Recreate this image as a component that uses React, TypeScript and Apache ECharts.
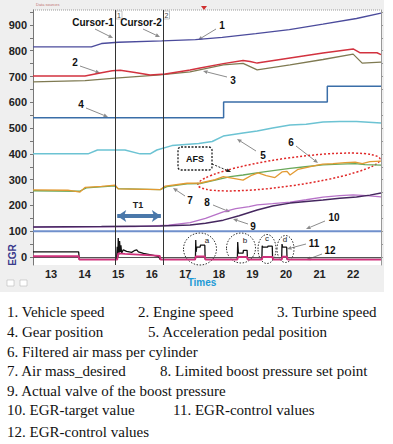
import React, { useEffect, useRef } from "react";
import * as echarts from "echarts";

// ---------- axis ticks ----------
const X_TICKS = [13, 14, 15, 16, 17, 18, 19, 20, 21, 22];
const Y_LABELS = [0, 100, 200, 300, 400, 500, 600, 700, 800, 900];
const Y_MINOR = [0, 50, 100, 150, 200, 250, 300, 350, 400, 450, 500, 550, 600, 650, 700, 750, 800, 850, 900, 950];

// ---------- series data [time, value] ----------
const VEHICLE_SPEED: [number, number][] = [
  [12.46, 815], [14.2, 815], [14.5, 828], [15.0, 833], [16.3, 838], [17.3, 843], [18.1, 852],
  [19.1, 866], [20.1, 882], [21.1, 903], [22.1, 925], [22.83, 946],
];
const ENGINE_SPEED: [number, number][] = [
  [12.46, 702], [14.01, 702], [14.46, 714], [14.82, 722], [15.06, 724], [15.5, 716], [15.95, 706],
  [16.4, 710], [17.14, 725], [17.44, 733], [18.13, 750], [18.72, 762], [18.93, 758], [19.14, 752],
  [20.12, 772], [21.1, 791], [22.0, 807], [22.21, 792], [22.71, 792], [22.83, 785],
];
const TURBINE_SPEED: [number, number][] = [
  [12.46, 679], [14.01, 684], [14.91, 694], [16.25, 706], [17.14, 718], [18.13, 745], [18.72, 751],
  [19.14, 726], [20.12, 745], [21.1, 766], [22.0, 787], [22.27, 752], [22.83, 756],
];
const GEAR_POSITION: [number, number][] = [
  [12.46, 540], [18.14, 540], [18.14, 601], [21.23, 601], [21.23, 662], [22.83, 662],
];
const PEDAL_POSITION: [number, number][] = [
  [12.46, 400], [14.1, 400], [14.38, 415], [15.2, 415], [15.65, 400], [15.95, 400], [16.15, 415],
  [16.6, 432], [17.4, 440], [17.8, 448], [18.13, 469], [18.72, 481], [19.14, 489], [19.6, 500],
  [20.12, 512], [20.6, 515], [21.1, 524], [21.6, 526], [22.1, 526], [22.83, 520],
];
const FILTERED_AIR_MASS: [number, number][] = [
  [12.46, 257], [13.85, 255], [14.05, 268], [14.9, 276], [15.0, 265], [16.25, 261], [16.45, 273],
  [17.05, 284], [17.44, 285], [17.89, 298], [18.34, 312], [18.72, 318], [19.23, 328], [19.67, 336],
  [20.12, 344], [20.57, 350], [21.1, 357], [21.61, 360], [22.06, 362], [22.35, 358], [22.83, 356],
];
const AIR_MASS_DESIRED: [number, number][] = [
  [12.46, 260], [13.5, 259], [13.86, 252], [14.01, 270], [14.5, 274], [14.91, 279], [15.0, 264],
  [16.25, 261], [16.4, 275], [17.05, 286], [17.44, 287], [17.89, 300], [18.13, 312], [18.39, 306],
  [18.72, 298], [18.99, 318], [19.17, 326], [19.41, 316], [19.67, 308], [19.88, 330], [20.03, 332],
  [20.12, 318], [20.36, 340], [20.63, 348], [20.93, 356], [21.1, 360], [21.4, 362], [21.76, 366],
  [22.06, 368], [22.27, 362], [22.5, 370], [22.83, 372],
];
const BOOST_SET_POINT: [number, number][] = [
  [12.46, 116], [15.5, 118], [16.5, 124], [17.14, 133], [17.6, 150], [18.13, 175], [18.5, 188],
  [18.9, 195], [19.14, 202], [19.6, 207], [20.12, 213], [20.6, 222], [21.1, 232], [21.6, 238],
  [22.0, 241], [22.4, 238], [22.83, 233],
];
const BOOST_ACTUAL: [number, number][] = [
  [12.46, 116], [14.5, 118], [16.25, 120], [17.14, 124], [17.6, 131], [18.13, 143], [18.6, 160],
  [19.14, 182], [19.6, 198], [20.12, 209], [20.6, 215], [21.1, 221], [21.6, 228], [22.1, 233],
  [22.5, 240], [22.83, 248],
];
const EGR_TARGET: [number, number][] = [[12.46, 100], [22.83, 100]];
const EGR_CONTROL_11: [number, number][] = [
  [12.46, 20], [13.82, 20], [13.84, -9], [14.95, -9], [14.97, 40], [14.99, 0], [15.0, 74],
  [15.02, 10], [15.04, 62], [15.06, 20], [15.08, 45], [15.1, 15], [15.15, 28], [15.25, 22],
  [15.4, 18], [15.5, 26], [15.55, 28], [15.6, 20], [15.75, 14], [15.9, 10], [16.05, 6], [16.2, 2],
  [16.25, -9], [17.3, -9], [17.31, 66], [17.32, 20], [17.34, 38], [17.44, 38], [17.45, 46],
  [17.58, 46], [17.59, -9], [18.55, -9], [18.56, 58], [18.58, 15], [18.72, 15], [18.73, 26],
  [18.84, 26], [18.85, -9], [19.28, -9], [19.29, 44], [19.31, 38], [19.45, 38], [19.46, 42],
  [19.59, 42], [19.6, -9], [19.87, -9], [19.88, 50], [19.9, 38], [20.02, 38], [20.03, -9], [22.83, -9],
];
const EGR_CONTROL_12: [number, number][] = [
  [12.46, 3], [13.82, 3], [13.84, -10], [14.97, -10], [15.0, 14], [15.2, 12], [15.6, 9], [16.0, 6],
  [16.24, 4], [16.26, -10], [17.29, -10], [17.31, 2], [17.58, 2], [17.6, -10], [18.55, -10],
  [18.57, 0], [18.84, 0], [18.86, -10], [19.28, -10], [19.3, 0], [19.6, 0], [19.62, -10],
  [19.87, -10], [19.89, 1], [20.03, 1], [20.05, -10], [22.83, -10],
];
const CURSORS = [14.91, 16.33];
const T1_SPAN = [14.97, 16.27];
const T1_LEVEL = 159;

// ---------- caption ----------
const CAPTION: [string, number, number][] = [
  ["1. Vehicle speed", 7, 312], ["2. Engine speed", 138, 312], ["3. Turbine speed", 277, 312],
  ["4. Gear position", 7, 332], ["5. Acceleration pedal position", 148, 332],
  ["6. Filtered air mass per cylinder", 7, 352],
  ["7. Air mass_desired", 7, 371], ["8. Limited boost pressure set point", 160, 371],
  ["9. Actual valve of the boost pressure", 7, 391],
  ["10. EGR-target value", 7, 410], ["11. EGR-control values", 173, 410],
  ["12. EGR-control values", 7, 432],
];

// annotation callouts: label, label x, label y, arrow from, arrow to
const CALLOUTS: [string, number, number, number, number, number, number][] = [
  ["1", 222, 25, 216, 29, 198, 40],
  ["2", 75, 62, 80, 66, 100, 73],
  ["3", 233, 80, 227, 77, 203, 71],
  ["4", 81, 104, 86, 108, 108, 117],
  ["5", 263, 155, 256, 151, 237, 139],
  ["6", 291, 142, 296, 146, 318, 163],
  ["7", 190, 200, 185, 196, 173, 188],
  ["8", 207, 202, 213, 205, 230, 212],
  ["9", 253, 226, 248, 224, 233, 219],
  ["10", 334, 217, 325, 221, 306, 229],
  ["11", 314, 243, 306, 244, 287, 249],
  ["12", 330, 250, 322, 254, 306, 260],
  ["Cursor-1", 93, 22, 95, 29, 113, 38],
  ["Cursor-2", 141, 22, 143, 29, 160, 37],
];

const EVENTS: [string, number, number, number, number, number, number][] = [
  ["a", 200, 249, 16.5, 16, 207, 240],
  ["b", 241, 248, 14.5, 15, 245, 240],
  ["c", 267, 249, 9, 14.5, 267, 238],
  ["d", 285.5, 249, 8.5, 13.5, 285, 239],
];

function arrow(x1: number, y1: number, x2: number, y2: number, color: string, dash?: number[]) {
  const a = Math.atan2(y2 - y1, x2 - x1);
  const s = 4.5;
  const w = 2;
  const bx = x2 - s * Math.cos(a);
  const by = y2 - s * Math.sin(a);
  return [
    { type: "line", shape: { x1, y1, x2: bx, y2: by }, style: { stroke: color, lineWidth: 1, lineDash: dash } },
    {
      type: "polygon",
      shape: { points: [[x2, y2], [bx + w * Math.sin(a), by - w * Math.cos(a)], [bx - w * Math.sin(a), by + w * Math.cos(a)]] },
      style: { fill: color },
    },
  ];
}

const line = (name: string, data: [number, number][], color: string, width = 1.3, extra: any = {}) => ({
  name,
  type: "line",
  data,
  showSymbol: false,
  symbol: "none",
  lineStyle: { color, width },
  itemStyle: { color },
  ...extra,
});

export default function App() {
  const ref = useRef<HTMLDivElement>(null);
  useEffect(() => {
    if (!ref.current) return;
    const chart = echarts.init(ref.current, undefined, { renderer: "svg" });
    const sans = "Liberation Sans, Arial, sans-serif";
    const graphics: any[] = [];
    // grey frame around the plot
    const bg = "#efefef";
    graphics.push(
      { type: "rect", shape: { x: 0, y: 0, width: 33, height: 292 }, style: { fill: bg }, z: -10 },
      { type: "rect", shape: { x: 33, y: 0, width: 351, height: 10 }, style: { fill: bg }, z: -10 },
      { type: "rect", shape: { x: 33, y: 265, width: 351, height: 27 }, style: { fill: bg }, z: -10 },
      { type: "rect", shape: { x: 381, y: 10, width: 3, height: 255 }, style: { fill: bg }, z: -10 },
      { type: "line", shape: { x1: 33, y1: 10, x2: 381, y2: 10 }, style: { stroke: "#9a9a9a", lineDash: [1, 1], lineWidth: 1 } },
      { type: "text", style: { x: 36, y: 2, text: "Data sources", font: "4px " + sans, fill: "#c07070" } },
      { type: "polygon", shape: { points: [[201, 6], [207, 6], [204, 10]] }, style: { fill: "#d03030" } },
      {
        type: "text", x: 12, y: 255, rotation: Math.PI / 2,
        style: { text: "EGR", font: "bold 10px " + sans, fill: "#3a3a8c", align: "center", verticalAlign: "middle" },
      },
      { type: "text", style: { x: 202, y: 282, text: "Times", font: "bold 10px " + sans, fill: "#1d9ad6", align: "center", verticalAlign: "middle" } },
      { type: "rect", shape: { x: 7, y: 280, width: 7, height: 6 }, style: { fill: "#fff", stroke: "#aaa", lineWidth: 0.5 } },
      { type: "rect", shape: { x: 20, y: 280, width: 7, height: 6 }, style: { fill: "#fff", stroke: "#aaa", lineWidth: 0.5 } },
      { type: "rect", shape: { x: 116, y: 11, width: 6, height: 8 }, style: { fill: "#fff", stroke: "#888", lineWidth: 0.5 } },
      { type: "text", style: { x: 119, y: 15, text: "1", font: "7px " + sans, fill: "#444", align: "center", verticalAlign: "middle" } },
      { type: "rect", shape: { x: 163.5, y: 11, width: 6, height: 8 }, style: { fill: "#fff", stroke: "#888", lineWidth: 0.5 } },
      { type: "text", style: { x: 166.5, y: 15, text: "2", font: "7px " + sans, fill: "#444", align: "center", verticalAlign: "middle" } },
    );
    // callouts
    CALLOUTS.forEach(([label, lx, ly, x1, y1, x2, y2]) => {
      graphics.push(...arrow(x1, y1, x2, y2, "#8c8c8c"));
      graphics.push({
        type: "text",
        style: { x: lx, y: ly, text: label, font: "bold 10px " + sans, fill: "#111", align: "center", verticalAlign: "middle" },
      });
    });
    // event circles
    EVENTS.forEach(([label, cx, cy, rx, ry, tx, ty]) => {
      graphics.push({ type: "ellipse", shape: { cx, cy, rx, ry }, style: { fill: "none", stroke: "#333", lineWidth: 1, lineDash: [1.5, 1.5] } });
      graphics.push({ type: "text", style: { x: tx, y: ty, text: label, font: "8px " + sans, fill: "#222", align: "center", verticalAlign: "middle" } });
    });
    // red dotted ellipse
    graphics.push({
      type: "group", x: 289, y: 172, rotation: 0.14,
      children: [{ type: "ellipse", shape: { cx: 0, cy: 0, rx: 92, ry: 14 }, style: { fill: "none", stroke: "#e02828", lineWidth: 1.5, lineDash: [2, 2] } }],
    });
    // AFS box
    graphics.push(
      { type: "rect", shape: { x: 178, y: 147, width: 34, height: 23, r: 3 }, style: { fill: "none", stroke: "#222", lineWidth: 1.3, lineDash: [2, 1.5] } },
      { type: "text", style: { x: 195, y: 158.5, text: "AFS", font: "bold 9px " + sans, fill: "#111", align: "center", verticalAlign: "middle" } },
      ...arrow(212, 164, 231, 172, "#222", [2, 1.5]),
      { type: "text", style: { x: 138, y: 205, text: "T1", font: "bold 9px " + sans, fill: "#222", align: "center", verticalAlign: "middle" } },
    );
    // caption
    CAPTION.forEach(([t, x, y]) => {
      graphics.push({ type: "text", style: { x, y, text: t, font: "15px 'Liberation Serif', 'Times New Roman', serif", fill: "#111", verticalAlign: "middle" } });
    });

    chart.setOption({
      animation: false,
      backgroundColor: "#fff",
      grid: { left: 33, top: 10, width: 348, height: 255, show: false },
      xAxis: {
        type: "value", min: 12.46, max: 22.83,
        axisLine: { lineStyle: { color: "#555" } },
        axisTick: { show: false },
        splitLine: { show: false },
        axisLabel: { customValues: X_TICKS, fontWeight: "bold", fontSize: 11, fontFamily: sans, color: "#222", margin: 3 },
      },
      yAxis: [
        {
          type: "value", min: -31, max: 958,
          axisLine: { show: true, lineStyle: { color: "#777" } },
          axisTick: { show: true, customValues: Y_MINOR, length: 3, lineStyle: { color: "#777" } },
          splitLine: { show: false },
          axisLabel: { customValues: Y_LABELS, fontWeight: "bold", fontSize: 11, fontFamily: sans, color: "#222", margin: 6 },
        },
        {
          type: "value", min: -31, max: 958, position: "right",
          axisLine: { show: true, lineStyle: { color: "#999" } },
          axisTick: { show: true, customValues: Y_MINOR, length: 2, lineStyle: { color: "#999" } },
          splitLine: { show: false },
          axisLabel: { show: false },
        },
      ],
      graphic: graphics,
      series: [
        line("Vehicle speed", VEHICLE_SPEED, "#4b4b9c"),
        line("Turbine speed", TURBINE_SPEED, "#7f7a52"),
        line("Engine speed", ENGINE_SPEED, "#d2323f", 1.5),
        line("Gear position", GEAR_POSITION, "#3a6ea8", 1.5),
        line("Acceleration pedal position", PEDAL_POSITION, "#6cc3d3", 1.5),
        line("Filtered air mass per cylinder", FILTERED_AIR_MASS, "#6aa85a"),
        line("Air mass_desired", AIR_MASS_DESIRED, "#e39a32"),
        line("Limited boost pressure set point", BOOST_SET_POINT, "#b772c8"),
        line("Actual valve of the boost pressure", BOOST_ACTUAL, "#45275f", 1.5),
        line("EGR-target value", EGR_TARGET, "#7090cc", 2),
        line("EGR-control values 11", EGR_CONTROL_11, "#111", 1.3, {
          markLine: {
            silent: true, symbol: "none", animation: false,
            label: { show: false },
            lineStyle: { color: "#333", width: 1, type: "solid" },
            data: CURSORS.map((c) => ({ xAxis: c })),
          },
        }),
        line("EGR-control values 12", EGR_CONTROL_12, "#d0327c", 1.8, {
          markLine: {
            silent: true, symbol: ["arrow", "arrow"], symbolSize: [9, 9], animation: false,
            label: { show: false },
            lineStyle: { color: "#4a78aa", width: 4, type: "solid" },
            data: [[{ coord: [T1_SPAN[0], T1_LEVEL] }, { coord: [T1_SPAN[1], T1_LEVEL] }]],
          },
        }),
      ],
    });
    return () => chart.dispose();
  }, []);
  return <div ref={ref} style={{ position: "fixed", left: 0, top: 0, width: 393, height: 444 }} />;
}
